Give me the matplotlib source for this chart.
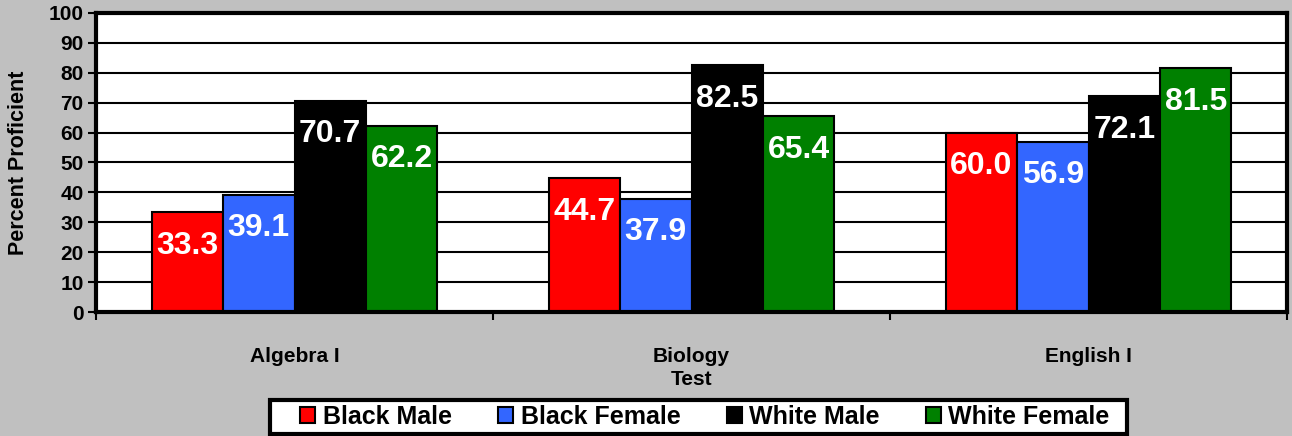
import numpy as np
import matplotlib
matplotlib.use("Agg")
import matplotlib.pyplot as plt
from matplotlib.patches import Rectangle

plt.rcParams['font.family'] = ['Liberation Sans', 'DejaVu Sans']
plt.rcParams['font.weight'] = 'bold'

tests = ["Algebra I", "Biology", "English I"]
groups = ["Black Male", "Black Female", "White Male", "White Female"]
colors = ["#FF0000", "#3366FF", "#000000", "#008000"]

black_male = [33.3, 44.7, 60.0]
black_female = [39.1, 37.9, 56.9]
white_male = [70.7, 82.5, 72.1]
white_female = [62.2, 65.4, 81.5]
series = [black_male, black_female, white_male, white_female]

yticks = np.arange(0, 101, 10)

fig = plt.figure(figsize=(12.92, 4.36), dpi=100)
fig.patch.set_facecolor("#C0C0C0")
ax = fig.add_axes([96/1292, 1 - 312/436, 1191/1292, 299/436])
ax.set_facecolor("white")

x = np.arange(len(tests))
w = 0.18
for i, (vals, c, name) in enumerate(zip(series, colors, groups)):
    pos = x + (i - 1.5) * w
    bars = ax.bar(pos, vals, width=w, color=c, edgecolor="black", linewidth=1.5,
                  label=name, zorder=3)
    for b, v in zip(bars, vals):
        ax.annotate(f"{v:.1f}", (b.get_x() + b.get_width() / 2, v),
                    xytext=(0, -24), textcoords="offset points",
                    ha="center", va="center", color="white",
                    fontsize=23, fontweight="bold", zorder=4)

ax.set_ylim(0, 100)
ax.set_xlim(-0.5, 2.5)
ax.set_yticks(yticks)
ax.set_yticklabels([str(t) for t in yticks], fontsize=15, fontweight="bold")
ax.yaxis.grid(True, color="black", linewidth=1.5, zorder=0)
ax.tick_params(axis="y", length=6, width=1.5, pad=3)

# category labels + boundary tick marks
ax.set_xticks(x)
ax.set_xticklabels(tests, fontsize=15, fontweight="bold")
ax.tick_params(axis="x", which="major", length=0, pad=25)
ax.set_xticks([-0.5, 0.5, 1.5, 2.5], minor=True)
ax.tick_params(axis="x", which="minor", length=6, width=1.5)

for s in ax.spines.values():
    s.set_linewidth(3)
    s.set_color("black")
    s.set_zorder(5)

ax.set_ylabel("Percent Proficient", fontsize=15.5, fontweight="bold")
ax.yaxis.set_label_coords(-0.056, 0.5)
ax.set_xlabel("Test", fontsize=15, fontweight="bold")
ax.xaxis.set_label_coords(0.5, -0.195)

# legend box drawn separately so the padding matches
box = Rectangle((270/1292, 1 - 434/436), 857/1292, 34/436, transform=fig.transFigure,
                facecolor="white", edgecolor="black", linewidth=3, zorder=1)
fig.patches.append(box)

leg = fig.legend(loc="center", bbox_to_anchor=(0.5457, 0.0436), ncol=4,
                 fontsize=18, frameon=False,
                 handlelength=0.6, handleheight=0.6, handletextpad=0.3,
                 columnspacing=1.85, borderpad=0.1, borderaxespad=0)
for t in leg.get_texts():
    t.set_fontweight("bold")

fig.savefig("out.png", dpi=100, facecolor=fig.get_facecolor())
